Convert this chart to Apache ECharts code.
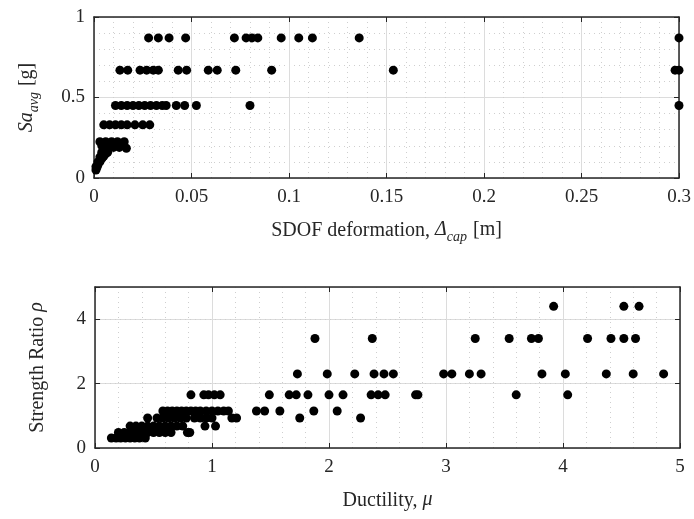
<!DOCTYPE html>
<html lang="en">
  <head>
    <meta charset="UTF-8" />
    <title>SDOF capacity scatter</title>
    <style>
      html, body { margin: 0; padding: 0; background: #fff; }
      #chart { width: 694px; height: 519px; }
    </style>
  </head>
  <body>
    <div id="chart"></div>

    <script src="https://cdn.jsdelivr.net/npm/echarts@6.0.0/dist/echarts.min.js"></script>
    <script>
      // top panel: SDOF deformation (m) vs Sa_avg (g)
      const deltaCap = [
        0.028, 0.033, 0.0385, 0.047, 0.072, 0.078, 0.081, 0.084, 0.096, 0.105, 0.112, 0.136, 0.3,
        0.0133, 0.0173, 0.0236, 0.027, 0.0304, 0.033, 0.0432, 0.0475, 0.0586, 0.0632, 0.0727, 0.0911, 0.1535, 0.298, 0.3,
        0.011, 0.014, 0.017, 0.02, 0.023, 0.026, 0.029, 0.032, 0.035, 0.037, 0.0422, 0.0465, 0.0525, 0.08, 0.3,
        0.005, 0.008, 0.011, 0.014, 0.017, 0.021, 0.025, 0.0286,
        0.003, 0.006, 0.009, 0.012, 0.0155,
        0.004, 0.007, 0.01, 0.013, 0.0166,
        0.001, 0.0015, 0.002, 0.003, 0.004, 0.005, 0.006, 0.007, 0.002, 0.001, 0.003, 0.004
      ];
      const saAvg = [
        0.87, 0.87, 0.87, 0.87, 0.87, 0.87, 0.87, 0.87, 0.87, 0.87, 0.87, 0.87, 0.87,
        0.67, 0.67, 0.67, 0.67, 0.67, 0.67, 0.67, 0.67, 0.67, 0.67, 0.67, 0.67, 0.67, 0.67, 0.67,
        0.45, 0.45, 0.45, 0.45, 0.45, 0.45, 0.45, 0.45, 0.45, 0.45, 0.45, 0.45, 0.45, 0.45, 0.45,
        0.33, 0.33, 0.33, 0.33, 0.33, 0.33, 0.33, 0.33,
        0.225, 0.225, 0.225, 0.225, 0.225,
        0.2, 0.2, 0.19, 0.19, 0.185,
        0.05, 0.065, 0.08, 0.1, 0.12, 0.135, 0.15, 0.16, 0.1, 0.07, 0.13, 0.16
      ];

      // bottom panel: ductility vs strength ratio
      const ductility = [
        3.92, 4.52, 4.65,
        1.88, 2.37, 3.25, 3.54, 3.73, 3.79, 4.21, 4.41, 4.52, 4.62,
        1.73, 1.985, 2.22, 2.385, 2.47, 2.55, 2.98, 3.05, 3.2, 3.3, 3.82, 4.02, 4.37, 4.6, 4.86,
        0.82, 0.93, 0.97, 1.02, 1.07, 1.49, 1.66, 1.72, 1.82, 2.0, 2.12, 2.36, 2.42, 2.48, 2.74, 2.76, 3.6, 4.04,
        0.58, 0.62, 0.66, 0.7, 0.74, 0.78, 0.82, 0.86, 0.9, 0.95, 1.0, 1.05, 1.1, 1.14, 1.38, 1.45, 1.58, 1.87, 2.07,
        0.45, 0.53, 0.58, 0.63, 0.68, 0.73, 0.78, 0.85, 0.9, 0.95, 1.0, 1.17, 1.21, 1.75, 2.27,
        0.3, 0.35, 0.4, 0.45, 0.5, 0.55, 0.6, 0.65, 0.7, 0.75, 0.81, 0.94, 1.03,
        0.2, 0.25, 0.3, 0.35, 0.4, 0.45, 0.5, 0.55, 0.6, 0.65, 0.79,
        0.14, 0.18, 0.22, 0.26, 0.3, 0.34, 0.38, 0.43
      ];
      const strengthRatio = [
        4.4, 4.4, 4.4,
        3.4, 3.4, 3.4, 3.4, 3.4, 3.4, 3.4, 3.4, 3.4, 3.4,
        2.3, 2.3, 2.3, 2.3, 2.3, 2.3, 2.3, 2.3, 2.3, 2.3, 2.3, 2.3, 2.3, 2.3, 2.3,
        1.65, 1.65, 1.65, 1.65, 1.65, 1.65, 1.65, 1.65, 1.65, 1.65, 1.65, 1.65, 1.65, 1.65, 1.65, 1.65, 1.65, 1.65,
        1.15, 1.15, 1.15, 1.15, 1.15, 1.15, 1.15, 1.15, 1.15, 1.15, 1.15, 1.15, 1.15, 1.15, 1.15, 1.15, 1.15, 1.15, 1.15,
        0.93, 0.93, 0.93, 0.93, 0.93, 0.93, 0.93, 0.93, 0.93, 0.93, 0.93, 0.93, 0.93, 0.93, 0.93,
        0.68, 0.68, 0.68, 0.68, 0.68, 0.68, 0.68, 0.68, 0.68, 0.68, 0.48, 0.68, 0.68,
        0.48, 0.48, 0.48, 0.48, 0.48, 0.48, 0.48, 0.48, 0.48, 0.48, 0.48,
        0.31, 0.31, 0.31, 0.31, 0.31, 0.31, 0.31, 0.31
      ];

      const font = 'Liberation Serif';
      const ink = '#262626';
      const majorGrid = { lineStyle: { color: '#dcdcdc', width: 1 } };
      const minorGrid = { show: true, lineStyle: { color: '#cfcfcf', width: 1, type: [1, 4] } };
      const tickStyle = { inside: true, length: 5, lineStyle: { color: ink, width: 1 } };
      const lineStyle = { show: true, onZero: false, lineStyle: { color: ink, width: 1.5 } };
      const labelStyle = { color: ink, fontFamily: font, fontSize: 19 };
      const nameRich = {
        n: { fontFamily: font, fontSize: 20, color: ink, lineHeight: 22, verticalAlign: 'top' },
        i: { fontFamily: font, fontSize: 20, color: ink, fontStyle: 'italic', lineHeight: 22, verticalAlign: 'top' },
        s: { fontFamily: font, fontSize: 14, color: ink, fontStyle: 'italic', lineHeight: 14, padding: [12, 1, 0, 0] }
      };

      function toPairs(xs, ys) {
        return xs.map((x, i) => [x, ys[i]]);
      }

      // secondary axis used only for the box outline and mirrored ticks
      function mirror(gridIndex, min, max, interval, pos) {
        return {
          type: 'value', gridIndex: gridIndex, position: pos, min: min, max: max, interval: interval,
          axisLine: lineStyle, axisTick: tickStyle, axisLabel: { show: false },
          splitLine: { show: false }
        };
      }

      const chart = echarts.init(document.getElementById('chart'), null, { renderer: 'canvas' });

      const option = {
        animation: false,
        backgroundColor: '#fff',
        grid: [
          { left: 94, right: 15, top: 17, height: 161 },
          { left: 95, right: 14, top: 287, height: 161 }
        ],
        xAxis: [
          {
            type: 'value', gridIndex: 0, min: 0, max: 0.3, interval: 0.05,
            name: 'SDOF deformation, {i|Δ}{s|cap}{n| [m]}',
            nameLocation: 'middle', nameGap: 42,
            nameTextStyle: { fontFamily: font, fontSize: 20, color: ink, rich: nameRich },
            axisLine: lineStyle, axisTick: tickStyle,
            axisLabel: Object.assign({ margin: 10, formatter: (v) => String(+v.toFixed(2)) }, labelStyle),
            splitLine: majorGrid,
            minorTick: { show: false, splitNumber: 5 },
            minorSplitLine: minorGrid
          },
          mirror(0, 0, 0.3, 0.05, 'top'),
          {
            type: 'value', gridIndex: 1, min: 0, max: 5, interval: 1,
            name: 'Ductility, {i|μ}',
            nameLocation: 'middle', nameGap: 42,
            nameTextStyle: { fontFamily: font, fontSize: 20, color: ink, rich: nameRich },
            axisLine: lineStyle, axisTick: tickStyle,
            axisLabel: Object.assign({ margin: 10 }, labelStyle),
            splitLine: majorGrid,
            minorTick: { show: false, splitNumber: 5 },
            minorSplitLine: minorGrid
          },
          mirror(1, 0, 5, 1, 'top')
        ],
        yAxis: [
          {
            type: 'value', gridIndex: 0, min: 0, max: 1, interval: 0.5,
            name: '{i|Sa}{s|avg}{n| [g]}',
            nameLocation: 'middle', nameGap: 55, nameRotate: 90,
            nameTextStyle: { fontFamily: font, fontSize: 20, color: ink, rich: nameRich },
            axisLine: lineStyle, axisTick: tickStyle,
            axisLabel: Object.assign({ margin: 9 }, labelStyle),
            splitLine: majorGrid,
            minorTick: { show: false, splitNumber: 5 },
            minorSplitLine: minorGrid
          },
          mirror(0, 0, 1, 0.5, 'right'),
          {
            type: 'value', gridIndex: 1, min: 0, max: 5, interval: 2,
            name: 'Strength Ratio {i|ρ}',
            nameLocation: 'middle', nameGap: 46, nameRotate: 90,
            nameTextStyle: { fontFamily: font, fontSize: 20, color: ink, rich: nameRich },
            axisLine: lineStyle, axisTick: tickStyle,
            axisLabel: Object.assign({ margin: 9, formatter: (v) => (v === 5 ? '' : String(v)) }, labelStyle),
            splitLine: majorGrid
          },
          {
            // right side: dotted minor grid every 0.5, ticks only at 2 and 4
            type: 'value', gridIndex: 1, position: 'right', min: 0, max: 5, interval: 0.5,
            axisLine: lineStyle,
            axisTick: Object.assign({ customValues: [2, 4] }, tickStyle),
            axisLabel: { show: false },
            splitLine: { show: true, lineStyle: minorGrid.lineStyle }
          }
        ],
        series: [
          {
            type: 'scatter', xAxisIndex: 0, yAxisIndex: 0, symbolSize: 9, clip: false,
            itemStyle: { color: '#000', opacity: 1 },
            data: toPairs(deltaCap, saAvg)
          },
          {
            type: 'scatter', xAxisIndex: 2, yAxisIndex: 2, symbolSize: 9, clip: false,
            itemStyle: { color: '#000', opacity: 1 },
            data: toPairs(ductility, strengthRatio)
          }
        ]
      };

      chart.setOption(option);
    </script>
  </body>
</html>
